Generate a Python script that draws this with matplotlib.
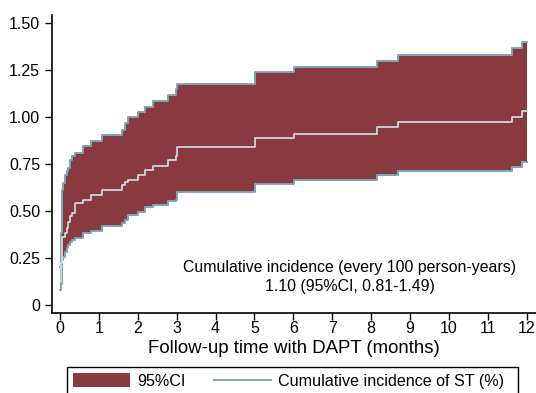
import numpy as np
import matplotlib.pyplot as plt
from matplotlib.patches import Patch, Rectangle
from matplotlib.lines import Line2D

plt.rcParams['font.family'] = ['Liberation Sans', 'DejaVu Sans']

# follow-up time (months) at each step
times = [0, 0.02, 0.05, 0.08, 0.13, 0.17, 0.21, 0.26, 0.30, 0.39, 0.59, 0.80,
         1.08, 1.59, 1.67, 1.75, 2.00, 2.19, 2.39, 2.78, 2.98, 3.01, 5.01,
         6.02, 8.15, 8.69, 11.62, 11.88, 12.0]
# cumulative incidence of ST (%)
cum_inc = [0.12, 0.22, 0.36, 0.36, 0.38, 0.41, 0.44, 0.47, 0.49, 0.54, 0.56, 0.585,
           0.61, 0.64, 0.655, 0.665, 0.69, 0.72, 0.74, 0.77, 0.79, 0.84, 0.89,
           0.91, 0.945, 0.975, 1.00, 1.03, 1.03]
ci_low = [0.08, 0.11, 0.24, 0.255, 0.28, 0.30, 0.32, 0.335, 0.345, 0.355, 0.38, 0.39,
          0.42, 0.435, 0.45, 0.48, 0.495, 0.52, 0.53, 0.555, 0.56, 0.60, 0.645,
          0.665, 0.69, 0.71, 0.735, 0.76, 0.76]
ci_high = [0.20, 0.38, 0.61, 0.65, 0.69, 0.71, 0.73, 0.77, 0.79, 0.81, 0.846, 0.872,
           0.904, 0.931, 0.968, 1.00, 1.026, 1.053, 1.085, 1.117, 1.149, 1.175, 1.239,
           1.266, 1.298, 1.33, 1.367, 1.40, 1.40]

x_ticks = list(range(0, 13))
y_ticks = [0, 0.25, 0.5, 0.75, 1.0, 1.25, 1.5]
y_labels = ["0", "0.25", "0.50", "0.75", "1.00", "1.25", "1.50"]

fill_col = "#893a40"
edge_col = "#7ba7b3"
mean_col = "#d3e2e8"

fig = plt.figure(figsize=(5.36, 3.93), dpi=100)
ax = fig.add_axes([0.097, 0.204, 0.903, 0.758])

ax.fill_between(times, ci_low, ci_high, step="post", color=fill_col, lw=0)
ax.plot(times, ci_high, drawstyle="steps-post", color=edge_col, lw=1.4)
ax.plot(times, ci_low, drawstyle="steps-post", color=edge_col, lw=1.4)
ax.plot(times, cum_inc, drawstyle="steps-post", color=mean_col, lw=1.2)

ax.set_xlim(-0.206, 12.24)
ax.set_ylim(-0.043, 1.543)
ax.set_xticks(x_ticks)
ax.set_yticks(y_ticks)
ax.set_yticklabels(y_labels)
ax.tick_params(direction="out", length=5, width=1, labelsize=11.5, colors="black")
ax.tick_params(axis="x", pad=1)
for s in ["top", "right"]:
    ax.spines[s].set_visible(False)
for s in ["left", "bottom"]:
    ax.spines[s].set_linewidth(1.2)

ax.set_xlabel("Follow-up time with DAPT (months)", fontsize=13.4, labelpad=3)

ax.text(7.45, 0.197, "Cumulative incidence (every 100 person-years)",
        ha="center", va="center", fontsize=11.4)
ax.text(7.45, 0.096, "1.10 (95%CI, 0.81-1.49)",
        ha="center", va="center", fontsize=11.4)

# legend box (runs off the bottom edge as in the original)
fig.patches.append(Rectangle((67 / 536, -0.05), 451 / 536, 0.05 + 1 - 367 / 393,
                             transform=fig.transFigure, fill=False,
                             edgecolor="black", lw=1.0))
handles = [Patch(facecolor=fill_col, edgecolor="none"),
           Line2D([], [], color=edge_col, lw=1.4)]
labels = ["95%CI", "Cumulative incidence of ST (%)"]
fig.legend(handles, labels, loc="center left", ncol=2,
           bbox_to_anchor=(73 / 536, 1 - 381 / 393),
           fontsize=11.6, handlelength=3.54, handleheight=0.95,
           handletextpad=0.43, columnspacing=1.8, frameon=False,
           borderpad=0, borderaxespad=0)

fig.savefig("out.png", dpi=100)
